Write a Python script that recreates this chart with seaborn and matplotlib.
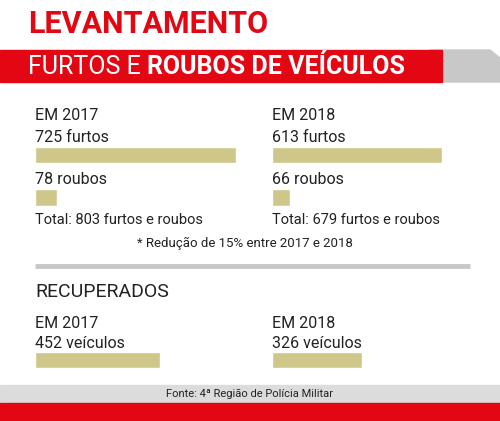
import matplotlib
matplotlib.use("Agg")
import matplotlib.pyplot as plt
import seaborn as sns
import pandas as pd
from matplotlib.patches import Rectangle, Polygon

sns.set_style("white")
plt.rcParams['font.family'] = ['Roboto', 'DejaVu Sans']

years = ["EM 2017", "EM 2018"]
furtos = [725, 613]
roubos = [78, 66]
recuperados = [452, 326]
footnote = "* Redução de 15% entre 2017 e 2018"
source = "Fonte: 4ª Região de Polícia Militar"

RED = "#e30613"
BAR = "#cfc78a"
W, H = 500, 421
fig = plt.figure(figsize=(5, 4.21), dpi=100)
ax = fig.add_axes([0, 0, 1, 1])
ax.set_xlim(0, W); ax.set_ylim(H, 0); ax.axis("off")

def px_axes(x0, y0, w, h):
    return fig.add_axes([x0 / W, 1 - (y0 + h) / H, w / W, h / H])

ax.text(28, 24, "LEVANTAMENTO", color=RED, fontsize=22, fontweight="bold", va="center")
ax.add_patch(Polygon([(430, 50), (490, 50), (500, 58), (500, 82), (430, 82)], color="#c8c8c8"))
ax.add_patch(Rectangle((0, 50), 442, 32, color=RED))
t = ax.text(28, 67, "FURTOS E ", color="white", fontsize=18, va="center", fontweight="normal")
fig.canvas.draw()
bb = t.get_window_extent().transformed(ax.transData.inverted())
ax.text(bb.x1, 67, "ROUBOS DE VEÍCULOS", color="white", fontsize=18, va="center", fontweight="bold")

xs = [35, 272]
scale = 0.2775
for i in range(2):
    x = xs[i]
    ax.text(x, 116, years[i], fontsize=11.5, va="center", color="#222")
    ax.text(x, 137, f"{furtos[i]} furtos", fontsize=11.5, va="center", color="#222")
    ax.text(x, 180, f"{roubos[i]} roubos", fontsize=11.5, va="center", color="#222")
    ax.text(x, 220, f"Total: {furtos[i] + roubos[i]} furtos e roubos", fontsize=10.5, va="center", color="#222")
    b = px_axes(x, 133.75, 800 * scale, 85)
    df = pd.DataFrame({"tipo": ["furtos", "roubos"], "v": [furtos[i], roubos[i]]})
    sns.barplot(data=df, x="v", y="tipo", orient="h", color=BAR, width=0.38, ax=b, saturation=1)
    b.set_xlim(0, 800); b.axis("off")

    ax.text(x, 323, years[i], fontsize=11.5, va="center", color="#222")
    ax.text(x, 344, f"{recuperados[i]} veículos", fontsize=11.5, va="center", color="#222")
    r = px_axes(x, 339, 800 * scale, 42)
    dr = pd.DataFrame({"tipo": ["rec"], "v": [recuperados[i]]})
    sns.barplot(data=dr, x="v", y="tipo", orient="h", color=BAR, width=0.38, ax=r, saturation=1)
    r.set_xlim(0, 800); r.axis("off")

ax.text(245, 243, footnote, fontsize=9.5, va="center", ha="center", color="#222")
ax.plot([35, 470], [266, 266], color="#c8c8c8", lw=3.5, solid_capstyle="butt")
ax.text(35, 292, "RECUPERADOS", fontsize=14, va="center", color="#222")

ax.add_patch(Rectangle((0, 385), W, 18, color="#dcdcdc"))
ax.text(250, 394, source, fontsize=8, va="center", ha="center", color="#222")
ax.add_patch(Rectangle((0, 403), W, 18, color=RED))

fig.savefig("out.png", dpi=100)
